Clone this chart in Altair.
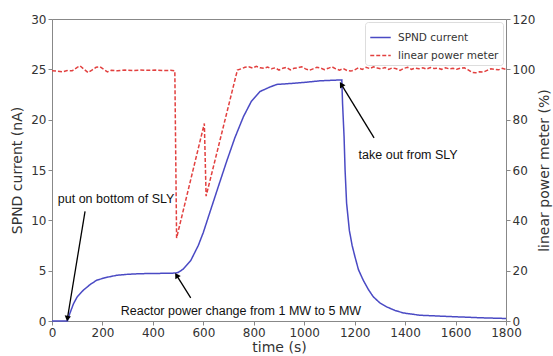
import altair as alt
import pandas as pd

# SPND current (nA) vs time (s)
spnd_t = [0, 55, 61, 70, 85, 100, 124, 150, 177, 210, 256, 300, 349, 400, 450, 490, 500, 520, 550, 580,
          600, 626, 660, 693, 725, 759, 790, 825, 860, 891, 950, 1000, 1063, 1100, 1149, 1152, 1158, 1162,
          1168, 1179, 1190, 1201, 1215, 1234, 1255, 1274, 1300, 1327, 1360, 1393, 1459, 1525, 1600, 1700, 1800]
spnd_v = [0, 0, 0, 0.7, 1.7, 2.4, 3.05, 3.6, 4.05, 4.3, 4.54, 4.64, 4.7, 4.72, 4.74, 4.76, 4.82, 5.15, 6.0, 7.5,
          8.8, 10.8, 13.4, 15.9, 18.2, 20.3, 21.8, 22.8, 23.2, 23.5, 23.6, 23.7, 23.86, 23.9, 23.95, 21.6, 18.3, 15.0,
          11.7, 9.0, 7.5, 6.4, 5.1, 4.05, 3.1, 2.4, 1.8, 1.4, 1.05, 0.8, 0.57, 0.5, 0.42, 0.32, 0.25]

# linear power meter (%) vs time (s)
pow_t = [0, 20, 40, 60, 80, 100, 111, 125, 143, 160, 175, 190, 205, 220, 235, 260, 290, 320, 350, 380,
         410, 440, 470, 487, 494, 604, 611, 735, 750, 765, 780, 795, 810, 825, 840, 855, 870, 885, 900,
         915, 930, 945, 960, 975, 990, 1005, 1020, 1035, 1050, 1065, 1080, 1095, 1110, 1125, 1140, 1155,
         1170, 1185, 1200, 1215, 1230, 1245, 1260, 1275, 1290, 1305, 1320, 1335, 1350, 1365, 1380, 1395,
         1410, 1425, 1440, 1455, 1470, 1485, 1500, 1515, 1530, 1545, 1560, 1575, 1590, 1605, 1620, 1635,
         1650, 1665, 1680, 1695, 1710, 1725, 1740, 1755, 1770, 1785, 1800]
pow_v = [99.4, 99.3, 99.0, 99.5, 99.4, 100.8, 101.4, 100.2, 98.7, 99.8, 100.8, 101.0, 100.0, 99.0, 99.6,
         99.4, 99.7, 99.5, 99.7, 99.6, 99.7, 99.5, 99.6, 99.4, 33.0, 78.5, 49.6, 99.7, 100.2, 100.8, 101.0,
         100.5, 101.2, 100.6, 100.4, 100.9, 100.2, 100.6, 99.7, 100.4, 100.8, 99.8, 100.4, 100.6, 101.0,
         100.2, 99.6, 100.2, 100.8, 100.5, 99.9, 100.4, 101.0, 100.2, 99.7, 100.3, 99.5, 99.3, 99.8, 100.6,
         100.0, 100.8, 100.3, 101.0, 100.5, 100.2, 100.7, 100.0, 100.6, 100.2, 99.6, 100.4, 100.8, 100.0,
         100.5, 100.2, 100.6, 100.1, 100.7, 100.3, 100.5, 100.0, 100.6, 100.2, 100.4, 100.0, 100.5, 100.6,
         99.8, 98.8, 98.6, 99.0, 98.9, 99.6, 100.2, 100.0, 99.8, 100.4, 100.0]

# annotations (data units on the left axis)
ann_text = ["put on bottom of SLY", "Reactor power change from 1 MW to 5 MW", "take out from SLY"]
ann_text_t = [254, 749, 1412]
ann_text_v = [12.07, 1.0, 16.5]
arrow_tail_t = [131, 550, 1277]
arrow_tail_v = [10.9, 2.29, 18.2]
arrow_head_t = [61, 494, 1147]
arrow_head_v = [0.24, 4.54, 23.5]
arrow_angle = [189.3, 328.3, 328.7]

series_names = ["SPND current", "linear power meter"]
series_colors = ["#4a4ac4", "#e2403f"]

x_ticks = list(range(0, 1801, 200))
left_ticks = list(range(0, 31, 5))
right_ticks = list(range(0, 121, 20))

df_spnd = pd.DataFrame({"t": spnd_t, "v": spnd_v, "series": series_names[0]})
df_pow = pd.DataFrame({"t": pow_t, "v": pow_v, "series": series_names[1]})
df_text = pd.DataFrame({"t": ann_text_t, "v": ann_text_v, "label": ann_text})
df_arrow = pd.DataFrame({"t": arrow_tail_t, "v": arrow_tail_v, "t2": arrow_head_t,
                         "v2": arrow_head_v, "angle": arrow_angle})

x_enc = alt.X("t:Q", scale=alt.Scale(domain=[0, 1800], nice=False),
              axis=alt.Axis(values=x_ticks, title="time (s)", titlePadding=2, format="d",
                            labelOverlap=False, labelFlush=False))

color_enc = alt.Color("series:N", scale=alt.Scale(domain=series_names, range=series_colors),
                      legend=alt.Legend(title=None))
dash_enc = alt.StrokeDash("series:N", scale=alt.Scale(domain=series_names, range=[[1, 0], [4, 2]]),
                          legend=alt.Legend(title=None))

y_left = alt.Y("v:Q", scale=alt.Scale(domain=[0, 30], nice=False),
               axis=alt.Axis(values=left_ticks, orient="left", title="SPND current (nA)", titlePadding=6,
                             labelOverlap=False, labelFlush=False))

blue = alt.Chart(df_spnd).mark_line(strokeWidth=1.5).encode(
    x=x_enc, y=y_left, color=color_enc, strokeDash=dash_enc)

rules = alt.Chart(df_arrow).mark_rule(color="black", strokeWidth=1.3).encode(
    x="t:Q", y="v:Q", x2="t2:Q", y2="v2:Q")
heads = alt.Chart(df_arrow).mark_point(shape="triangle-up", filled=True, color="black", size=40, opacity=1).encode(
    x="t2:Q", y="v2:Q", angle=alt.Angle("angle:Q", scale=None))
texts = alt.Chart(df_text).mark_text(font="Liberation Sans", fontSize=12.5, color="#111").encode(
    x="t:Q", y="v:Q", text="label:N")

left_layer = alt.layer(blue, rules, heads, texts)

red = alt.Chart(df_pow).mark_line(strokeWidth=1.5).encode(
    x=x_enc,
    y=alt.Y("v:Q", scale=alt.Scale(domain=[0, 120], nice=False),
            axis=alt.Axis(values=right_ticks, orient="right", title="linear power meter (%)",
                          titlePadding=3, titleAngle=270, titleBaseline="top",
                          labelOverlap=False, labelFlush=False)),
    color=color_enc, strokeDash=dash_enc)

chart = alt.layer(left_layer, red).resolve_scale(y="independent").properties(
    width=454, height=302,
    autosize=alt.AutoSizeParams(type="none"),
    padding={"left": 52, "top": 19, "right": 47, "bottom": 35},
).configure_view(stroke="#888", strokeWidth=1).configure_axis(
    grid=False, domainColor="#888", tickColor="#888", tickSize=4,
    labelFont="DejaVu Sans", labelFontSize=12, labelColor="#333",
    titleFont="DejaVu Sans", titleFontSize=14, titleFontWeight="normal", titleColor="#333",
).configure_legend(
    orient="top-right", offset=3, padding=4, strokeColor="#ddd", fillColor="white", cornerRadius=3,
    symbolType="stroke", symbolSize=420, symbolStrokeWidth=1.6, labelFont="DejaVu Sans",
    labelFontSize=10.5, labelColor="#333", rowPadding=1, labelOffset=6,
)

chart.save("out.html", embed_options={"renderer": "svg", "actions": False})
